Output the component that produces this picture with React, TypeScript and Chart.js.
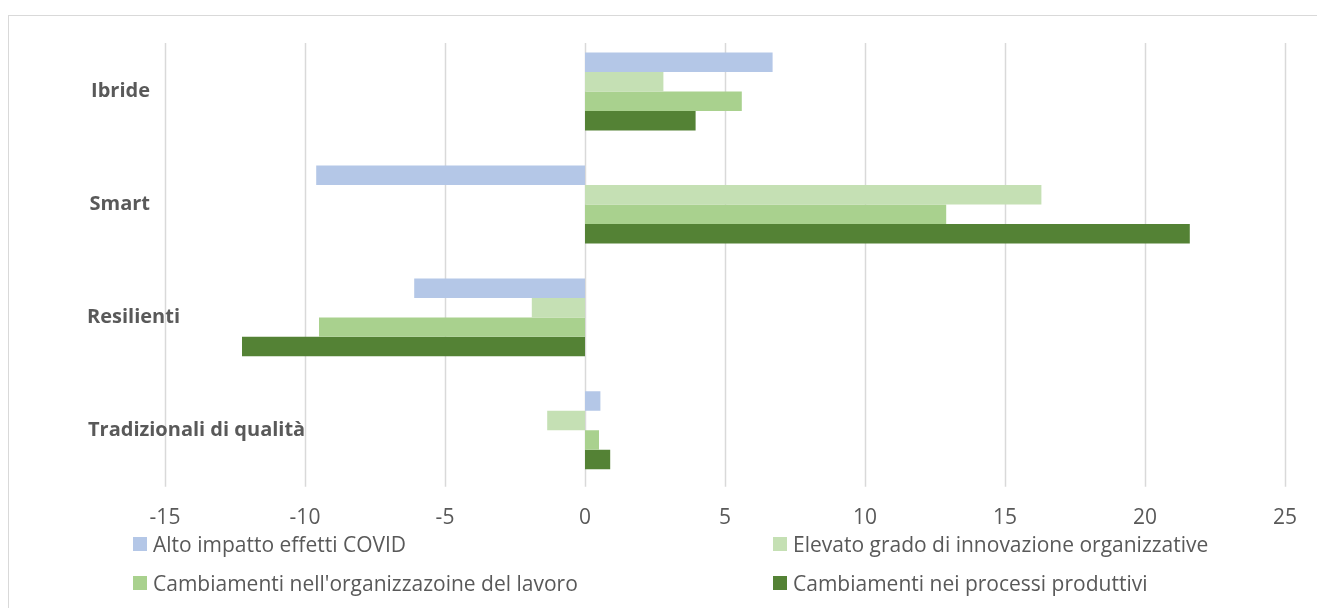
import React, { useEffect, useRef } from "react";
import { Chart, registerables } from "chart.js";

Chart.register(...registerables);

const categories = ["Ibride", "Smart", "Resilienti", "Tradizionali di qualità"];
const seriesNames = [
  "Alto impatto effetti COVID",
  "Elevato grado di innovazione organizzative",
  "Cambiamenti nell'organizzazoine del lavoro",
  "Cambiamenti nei processi produttivi",
];
const altoImpatto = [6.7, -9.6, -6.1, 0.55];
const innovazione = [2.8, 16.3, -1.9, -1.35];
const organizzazione = [5.6, 12.9, -9.5, 0.5];
const processi = [3.95, 21.6, -12.25, 0.9];
const xMin = -15;
const xMax = 25;
const xStep = 5;

const seriesColors = ["#B4C7E7", "#C5E0B4", "#A9D18E", "#548235"];
const labelAnchorX = [150, 150, 87, 88];
const labelAlign: CanvasTextAlign[] = ["right", "right", "left", "left"];
const FONT = "'Open Sans', 'Liberation Sans', sans-serif";
const TEXT = "#595959";

const categoryLabelsPlugin = {
  id: "categoryLabels",
  afterDraw(chart: any) {
    const ctx = chart.ctx;
    const y = chart.scales.y;
    ctx.save();
    ctx.fillStyle = TEXT;
    ctx.font = `bold 20px ${FONT}`;
    ctx.textBaseline = "middle";
    categories.forEach((c, i) => {
      ctx.textAlign = labelAlign[i];
      ctx.fillText(c, labelAnchorX[i], y.getPixelForValue(i));
    });
    ctx.restore();
  },
};

const gridPlugin = {
  id: "partialGrid",
  beforeDatasetsDraw(chart: any) {
    const ctx = chart.ctx;
    const x = chart.scales.x;
    const area = chart.chartArea;
    ctx.save();
    ctx.strokeStyle = "#D9D9D9";
    ctx.lineWidth = 1.5;
    x.ticks.forEach((t: any) => {
      const px = Math.round(x.getPixelForValue(t.value)) + 0.5;
      ctx.beginPath();
      ctx.moveTo(px, 43);
      ctx.lineTo(px, area.bottom);
      ctx.stroke();
    });
    ctx.restore();
  },
};

export default function App() {
  const ref = useRef<HTMLCanvasElement | null>(null);
  useEffect(() => {
    if (!ref.current) return;
    const data = [altoImpatto, innovazione, organizzazione, processi];
    const chart = new Chart(ref.current, {
      type: "bar",
      data: {
        labels: categories,
        datasets: data.map((d, i) => ({
          label: seriesNames[i],
          data: d,
          backgroundColor: seriesColors[i],
          borderWidth: 0,
          categoryPercentage: 0.69,
          barPercentage: 1,
        })),
      },
      options: {
        indexAxis: "y",
        responsive: false,
        animation: false,
        layout: { padding: { left: 165, right: 32, top: 35, bottom: 58 } },
        plugins: { legend: { display: false }, tooltip: { enabled: false } },
        scales: {
          x: {
            min: xMin,
            max: xMax,
            ticks: {
              stepSize: xStep,
              color: TEXT,
              font: { family: FONT, size: 21 },
              padding: 19,
              maxRotation: 0,
            },
            grid: { display: false, drawTicks: false },
            border: { display: false },
          },
          y: {
            ticks: { display: false },
            grid: { display: false, drawTicks: false },
            border: { display: false },
          },
        },
      },
      plugins: [gridPlugin, categoryLabelsPlugin],
    });
    return () => chart.destroy();
  }, []);

  const legendPos = [
    { left: 133, top: 544 },
    { left: 773, top: 544 },
    { left: 133, top: 583 },
    { left: 773, top: 583 },
  ];

  return (
    <div style={{ position: "absolute", left: 0, top: 0, width: 1317, height: 608, overflow: "hidden", background: "#fff" }}>
      <div style={{ position: "absolute", left: 8, top: 15, width: 1330, height: 620, border: "1px solid #D9D9D9" }} />
      <canvas ref={ref} width={1317} height={608} style={{ position: "absolute", left: 0, top: 0 }} />
      {seriesNames.map((n, i) => (
        <div
          key={n}
          style={{
            position: "absolute",
            left: legendPos[i].left,
            top: legendPos[i].top - 14,
            height: 28,
            display: "flex",
            alignItems: "center",
            fontFamily: FONT,
            fontSize: 21,
            color: TEXT,
            whiteSpace: "nowrap",
          }}
        >
          <span style={{ display: "inline-block", width: 14, height: 14, background: seriesColors[i], marginRight: 6 }} />
          {n}
        </div>
      ))}
    </div>
  );
}
